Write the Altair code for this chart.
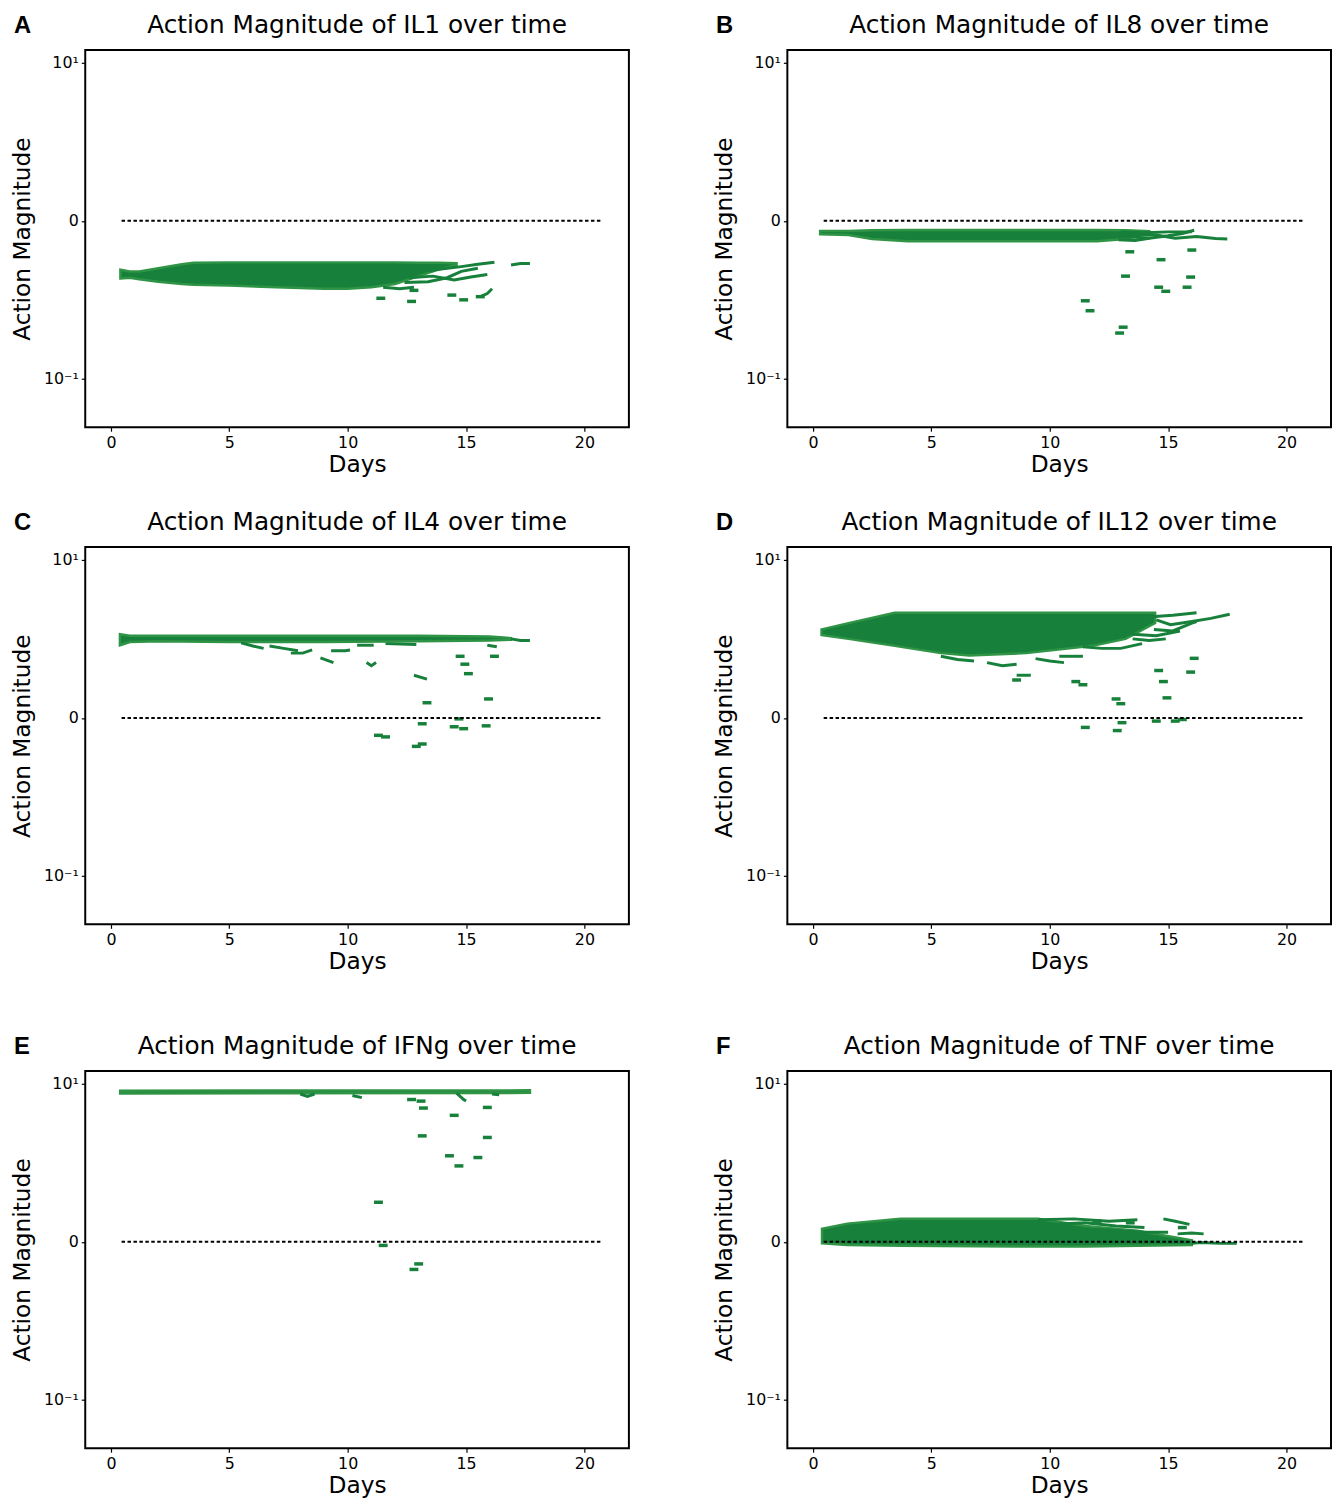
import altair as alt
import pandas as pd

# ---------------- axes (display units: tick -1 = "10^-1", 0, +1 = "10^1") ----------------
X_DOMAIN = [-1.085, 21.88]
Y_DOMAIN = [-1.306, 1.081]
X_TICKS = [0, 5, 10, 15, 20]
Y_TICKS = [-1, 0, 1]
ZERO_LINE = [0.45, 20.75]

LETTERS = ["A", "B", "C", "D", "E", "F"]
CYTOKINES = ["IL1", "IL8", "IL4", "IL12", "IFNg", "TNF"]

# ---------------- Panel A : IL1 ----------------
A_BAND_DAY = [0.4, 0.8, 1.2, 2.0, 3.0, 3.5, 5.0, 7.0, 9.0, 10.0, 11.0, 12.0, 13.0, 13.8, 14.6]
A_BAND_HI = [-0.31, -0.32, -0.32, -0.30, -0.275, -0.265, -0.263, -0.263, -0.263, -0.263, -0.263, -0.263, -0.265, -0.265, -0.268]
A_BAND_LO = [-0.365, -0.36, -0.37, -0.385, -0.40, -0.405, -0.41, -0.42, -0.43, -0.43, -0.42, -0.40, -0.35, -0.31, -0.28]
A_TRAJ = [
    [(12.5, -0.33), (13.7, -0.31), (14.8, -0.29), (15.5, -0.275), (16.2, -0.262)],
    [(12.6, -0.36), (13.6, -0.35), (14.5, -0.375), (15.2, -0.355), (15.9, -0.34)],
    [(12.4, -0.39), (13.4, -0.385), (14.2, -0.36), (14.8, -0.32), (15.5, -0.30)],
    [(16.9, -0.28), (17.3, -0.27), (17.7, -0.27)],
    [(11.5, -0.42), (12.2, -0.43), (12.8, -0.42)],
    [(15.6, -0.48), (15.9, -0.46), (16.1, -0.43)],
]
A_DASH_DAY = [11.4, 12.7, 12.8, 14.4, 14.9, 15.6]
A_DASH_VAL = [-0.49, -0.51, -0.44, -0.47, -0.50, -0.48]

# ---------------- Panel B : IL8 ----------------
B_BAND_DAY = [0.3, 1.5, 2.5, 4.0, 8.0, 12.0, 13.2, 14.2]
B_BAND_HI = [-0.065, -0.065, -0.06, -0.058, -0.058, -0.058, -0.06, -0.065]
B_BAND_LO = [-0.085, -0.09, -0.115, -0.13, -0.13, -0.13, -0.115, -0.08]
B_TRAJ = [
    [(13.0, -0.07), (14.0, -0.075), (15.0, -0.07), (16.0, -0.07)],
    [(13.2, -0.10), (14.2, -0.11), (15.0, -0.095), (15.6, -0.08), (16.1, -0.06)],
    [(13.5, -0.09), (14.5, -0.09), (15.3, -0.11), (16.2, -0.10), (17.0, -0.112), (17.5, -0.115)],
    [(12.9, -0.12), (13.6, -0.125), (14.2, -0.11)],
]
B_DASH_DAY = [13.38, 14.7, 16.0, 13.2, 14.6, 14.9, 15.95, 15.8, 11.5, 11.7, 13.1, 12.95]
B_DASH_VAL = [-0.196, -0.246, -0.185, -0.35, -0.42, -0.446, -0.356, -0.42, -0.506, -0.569, -0.673, -0.71]

# ---------------- Panel C : IL4 ----------------
C_BAND_DAY = [0.38, 0.8, 2.0, 5.0, 9.0, 13.0, 16.0, 16.9]
C_BAND_HI = [0.53, 0.52, 0.52, 0.52, 0.52, 0.52, 0.515, 0.505]
C_BAND_LO = [0.46, 0.48, 0.485, 0.48, 0.48, 0.485, 0.49, 0.495]
C_TRAJ = [
    [(16.9, 0.50), (17.3, 0.49), (17.7, 0.49)],
    [(5.5, 0.475), (6.0, 0.455), (6.45, 0.44)],
    [(6.7, 0.455), (7.3, 0.44), (7.9, 0.425)],
    [(7.6, 0.41), (8.1, 0.41), (8.5, 0.43)],
    [(8.85, 0.38), (9.4, 0.35)],
    [(9.3, 0.425), (9.9, 0.425), (10.1, 0.43)],
    [(10.8, 0.35), (11.0, 0.33), (11.2, 0.35)],
    [(10.4, 0.46), (11.1, 0.46)],
    [(11.6, 0.47), (12.9, 0.465)],
    [(12.8, 0.27), (13.35, 0.245)],
    [(15.9, 0.46), (16.3, 0.45)],
]
C_DASH_DAY = [13.35, 14.75, 14.95, 15.1, 16.2, 15.95, 14.7, 13.15, 14.5, 14.9, 15.85, 11.3, 11.6, 12.9, 13.15]
C_DASH_VAL = [0.096, 0.39, 0.34, 0.28, 0.39, 0.12, -0.006, -0.037, -0.056, -0.068, -0.05, -0.11, -0.12, -0.18, -0.165]

# ---------------- Panel D : IL12 ----------------
D_BAND_DAY = [0.36, 1.5, 3.45, 5.4, 6.6, 9.0, 11.8, 13.2, 14.45]
D_BAND_HI = [0.56, 0.60, 0.665, 0.665, 0.665, 0.665, 0.665, 0.665, 0.665]
D_BAND_LO = [0.525, 0.50, 0.456, 0.41, 0.395, 0.41, 0.456, 0.50, 0.60]
D_TRAJ = [
    [(5.4, 0.39), (6.1, 0.37), (6.8, 0.36)],
    [(7.35, 0.35), (8.0, 0.33), (8.6, 0.34)],
    [(8.6, 0.27), (9.2, 0.27)],
    [(9.4, 0.375), (10.0, 0.36), (10.6, 0.35)],
    [(10.4, 0.39), (11.4, 0.39)],
    [(11.4, 0.45), (12.2, 0.44), (13.0, 0.44), (13.9, 0.47)],
    [(13.5, 0.50), (14.2, 0.49), (14.9, 0.50)],
    [(14.4, 0.56), (15.2, 0.55), (16.0, 0.60), (16.2, 0.61)],
    [(14.5, 0.62), (15.1, 0.59), (16.0, 0.61), (16.8, 0.63), (17.6, 0.656)],
    [(14.3, 0.64), (15.2, 0.65), (16.2, 0.665)],
    [(12.5, 0.54), (13.5, 0.53), (14.5, 0.52), (15.5, 0.55)],
]
D_DASH_DAY = [8.6, 11.1, 11.4, 16.1, 14.6, 15.95, 14.8, 14.95, 12.8, 13.0, 11.5, 12.85, 13.05, 14.5, 15.3, 15.6]
D_DASH_VAL = [0.24, 0.23, 0.21, 0.377, 0.30, 0.29, 0.23, 0.127, 0.12, 0.09, -0.06, -0.08, -0.03, -0.02, -0.02, -0.01]

# ---------------- Panel E : IFNg ----------------
E_BAND_DAY = [0.39, 17.7]
E_BAND_HI = [0.956, 0.958]
E_BAND_LO = [0.938, 0.942]
E_TRAJ = [
    [(8.0, 0.935), (8.3, 0.92), (8.6, 0.935)],
    [(10.2, 0.925), (10.6, 0.912)],
    [(14.6, 0.94), (14.9, 0.90), (15.0, 0.89)],
    [(16.1, 0.935), (16.4, 0.93)],
]
E_DASH_DAY = [12.7, 13.1, 13.2, 15.9, 14.5, 13.15, 15.9, 14.3, 14.7, 15.5, 11.3, 11.5, 13.0, 12.8]
E_DASH_VAL = [0.90, 0.89, 0.846, 0.85, 0.80, 0.67, 0.66, 0.544, 0.48, 0.533, 0.25, -0.023, -0.14, -0.175]

# ---------------- Panel F : TNF ----------------
F_BAND_DAY = [0.38, 1.45, 3.7, 9.5, 11.5, 13.7, 16.0]
F_BAND_HI = [0.083, 0.115, 0.146, 0.146, 0.10, 0.07, 0.01]
F_BAND_LO = [-0.01, -0.02, -0.025, -0.03, -0.03, -0.025, -0.02]
F_TRAJ = [
    [(9.5, 0.14), (11.0, 0.145), (12.5, 0.13), (13.7, 0.14)],
    [(10.0, 0.11), (11.5, 0.12), (12.8, 0.10), (14.0, 0.09)],
    [(14.8, 0.145), (15.3, 0.13), (15.9, 0.11)],
    [(15.4, 0.05), (16.0, 0.055), (16.5, 0.05)],
    [(12.5, 0.04), (13.5, 0.035), (14.6, 0.03)],
    [(16.0, -0.01), (16.4, -0.005), (17.2, -0.01), (17.9, -0.01)],
    [(11.5, 0.08), (12.5, 0.075), (14.0, 0.06), (15.0, 0.06)],
]
F_DASH_DAY = [12.0, 13.4, 15.6]
F_DASH_VAL = [0.13, 0.12, 0.09]

PANELS = [
    (A_BAND_DAY, A_BAND_LO, A_BAND_HI, A_TRAJ, A_DASH_DAY, A_DASH_VAL),
    (B_BAND_DAY, B_BAND_LO, B_BAND_HI, B_TRAJ, B_DASH_DAY, B_DASH_VAL),
    (C_BAND_DAY, C_BAND_LO, C_BAND_HI, C_TRAJ, C_DASH_DAY, C_DASH_VAL),
    (D_BAND_DAY, D_BAND_LO, D_BAND_HI, D_TRAJ, D_DASH_DAY, D_DASH_VAL),
    (E_BAND_DAY, E_BAND_LO, E_BAND_HI, E_TRAJ, E_DASH_DAY, E_DASH_VAL),
    (F_BAND_DAY, F_BAND_LO, F_BAND_HI, F_TRAJ, F_DASH_DAY, F_DASH_VAL),
]

DARK = "#17803a"
EDGE = "#2f9445"
W, H = 549, 381
FONT = "DejaVu Sans"


def xenc(field="day"):
    return alt.X(f"{field}:Q", scale=alt.Scale(domain=X_DOMAIN, nice=False, zero=False),
                 axis=alt.Axis(values=X_TICKS, title="Days", format="d", titlePadding=3))


def yenc(field="val"):
    return alt.Y(f"{field}:Q", scale=alt.Scale(domain=Y_DOMAIN, nice=False, zero=False),
                 axis=alt.Axis(values=Y_TICKS, title="Action Magnitude", titlePadding=9,
                               labelExpr="datum.value > 0.5 ? '10¹' : (datum.value < -0.5 ? '10⁻¹' : '0')"))


def panel(i):
    band_day, band_lo, band_hi, trajs, dash_day, dash_val = PANELS[i]
    band_df = pd.DataFrame({"day": band_day, "val": band_lo, "hi": band_hi})
    rows = []
    for k, tr in enumerate(trajs):
        for j, (d, v) in enumerate(tr):
            rows.append({"traj": k, "idx": j, "day": d, "val": v})
    traj_df = pd.DataFrame(rows)
    dash_df = pd.DataFrame({"day": dash_day, "val": dash_val})
    zero_df = pd.DataFrame({"day": [ZERO_LINE[0]], "x2": [ZERO_LINE[1]], "val": [0.0]})
    label_df = pd.DataFrame({"letter": [LETTERS[i]],
                             "title": [f"Action Magnitude of {CYTOKINES[i]} over time"]})

    band = alt.Chart(band_df).mark_area(color=DARK, stroke=EDGE, strokeWidth=2.5, opacity=1).encode(
        x=xenc(), y=yenc(), y2="hi:Q")
    lines = alt.Chart(traj_df).mark_line(color=DARK, strokeWidth=3).encode(
        x=xenc(), y=yenc(), detail="traj:N", order="idx:Q")
    dashes = alt.Chart(dash_df).mark_tick(orient="horizontal", color=DARK, size=9, thickness=3.5,
                                          opacity=1).encode(x=xenc(), y=yenc())
    zero = alt.Chart(zero_df).mark_rule(color="black", strokeWidth=2, strokeDash=[3.5, 2.5]).encode(
        x=xenc(), x2="x2:Q", y=yenc())
    letter = alt.Chart(label_df).mark_text(align="left", baseline="alphabetic", fontSize=24,
                                           fontWeight="bold", font="Liberation Sans", color="black").encode(
        x=alt.value(-72), y=alt.value(-17), text="letter:N")
    title = alt.Chart(label_df).mark_text(align="center", baseline="alphabetic", fontSize=25,
                                          font=FONT, color="black").encode(
        x=alt.value(W / 2), y=alt.value(-17), text="title:N")

    return alt.layer(band, lines, dashes, zero, letter, title).properties(width=W, height=H)


row1 = alt.hconcat(panel(0), panel(1), spacing=82)
row2 = alt.hconcat(panel(2), panel(3), spacing=82)
row3 = alt.hconcat(panel(4), panel(5), spacing=82)

chart = alt.vconcat(alt.vconcat(row1, row2, spacing=32), row3, spacing=59).properties(
    padding={"top": -3, "left": 1, "right": 0, "bottom": 0}
).configure_view(stroke="black", strokeWidth=2).configure_axis(
    domain=False, grid=False, tickColor="black", tickSize=4, tickWidth=1.2,
    labelColor="black", labelFont=FONT, labelFontSize=16, labelPadding=3,
    titleFont=FONT, titleFontSize=23.5, titleFontWeight="normal", titleColor="black")

chart.save("out.html", embed_options={"renderer": "svg", "actions": False})
